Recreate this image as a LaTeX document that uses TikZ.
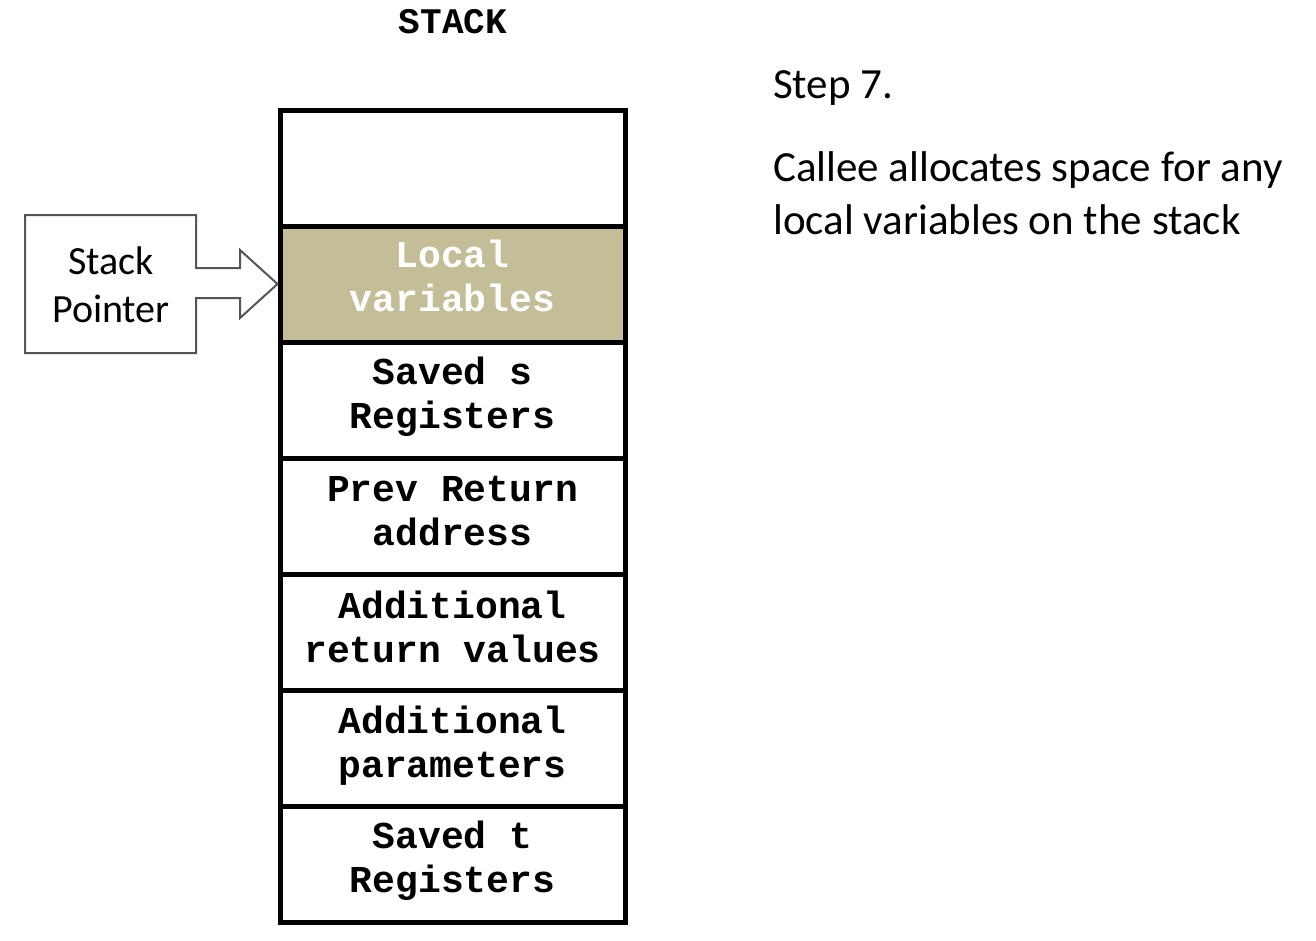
\documentclass[tikz,border=0pt]{standalone}
\usepackage{fontspec}
\setmainfont{Carlito}
\newfontfamily\monob{Liberation Mono}[BoldFont={Liberation Mono Bold}]
\definecolor{localfill}{HTML}{C3BD98}
\definecolor{callgray}{HTML}{555555}
\tikzset{
  cell/.style={draw=black, line width=5pt, minimum width=345pt, minimum height=116pt,
    inner sep=0pt, align=center, font=\monob\bfseries\fontsize{38}{44}\selectfont},
  celltext/.style={inner sep=0pt, align=center, font=\monob\bfseries\fontsize{38}{44}\selectfont},
  calltext/.style={align=center, font=\fontsize{40}{48}\selectfont, inner sep=0pt},
  desc/.style={anchor=west, align=left, font=\fontsize{43}{53}\selectfont, inner sep=0pt},
}
\begin{document}
\begin{tikzpicture}[x=1pt,y=-1pt]
\useasboundingbox (0,0) rectangle (1316,940);
\node[font=\monob\bfseries\fontsize{36}{40}\selectfont, inner sep=0pt] (title) at (453,22) {STACK};
\node[cell] (c1) at (452.5,168) {};
\node[cell, fill=localfill] (c2) at (452.5,284) {};
\node[cell] (c3) at (452.5,400) {};
\node[cell] (c4) at (452.5,516) {};
\node[cell] (c5) at (452.5,632) {};
\node[cell] (c6) at (452.5,748) {};
\node[cell] (c7) at (452.5,864) {};
\node[celltext, text=white] (t2) at (452.5,276) {Local\\variables};
\node[celltext] (t3) at (452.5,397) {Saved s\\Registers};
\node[celltext] (t4) at (452.5,511) {Prev Return\\address};
\node[celltext] (t5) at (452.5,627) {Additional\\return values};
\node[celltext] (t6) at (452.5,746) {Additional\\parameters};
\node[celltext] (t7) at (452.5,861) {Saved t\\Registers};
% stack pointer callout
\coordinate (tip) at (c2.west);
\draw[callgray, line width=2pt, line join=miter]
  (25,215) -- (196,215) -- (196,268) -- (240,268) -- (240,250) -- (tip)
  -- (240,318) -- (240,298) -- (196,298) -- (196,353) -- (25,353) -- cycle;
\node[calltext] (sp) at (111,285) {Stack\\Pointer};
% description
\node[desc] (step) at (773,88) {Step 7.};
\node[desc] (expl) at (773,193) {Callee allocates space for any\\local variables on the stack};
\end{tikzpicture}
\end{document}
